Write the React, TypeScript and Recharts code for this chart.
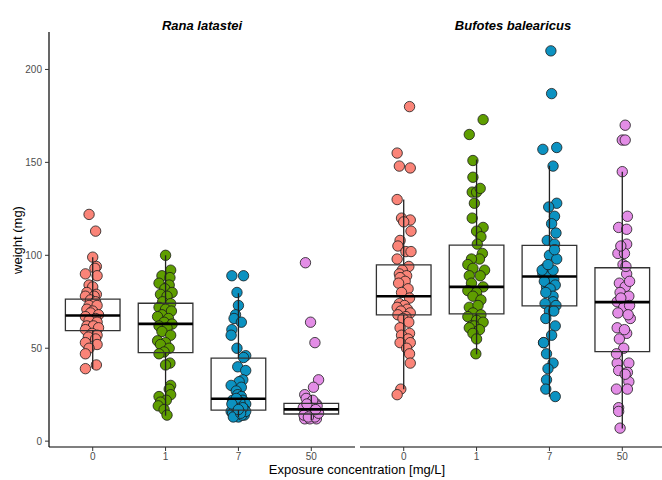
import { ComposedChart, ReferenceArea, ReferenceLine, Scatter, XAxis, YAxis } from "recharts";

const concentrations = ["0", "1", "7", "50"];
const groupColors = ["#FA8478", "#5F9E00", "#0C92C1", "#E38DE6"];
const weightTicks = [0, 50, 100, 150, 200];

// [jitter offset in category units, weight in mg]
const ranaC0: [number, number][] = [
  [-0.05, 122], [0.04, 113], [0, 99], [0.05, 94], [0.03, 93], [-0.1, 90], [0.06, 89], [-0.05, 84],
  [0, 83], [-0.08, 80], [0.05, 79], [0.02, 78], [-0.1, 78], [-0.03, 76], [0.04, 75], [-0.05, 73],
  [0.06, 73], [-0.08, 71], [0, 70], [-0.03, 69], [0.08, 68], [-0.1, 67], [0.04, 66], [-0.05, 65],
  [0.06, 64], [-0.08, 62], [0.01, 62], [0.08, 61], [-0.1, 60], [-0.01, 58], [0.06, 57], [-0.06, 56],
  [0.04, 55], [-0.1, 53], [0.06, 52], [-0.05, 50], [-0.1, 47], [0.05, 41], [-0.1, 39],
];
const ranaC1: [number, number][] = [
  [0, 100], [0.07, 92], [-0.05, 89], [0.06, 88], [-0.09, 85], [0.05, 84], [-0.01, 82], [0.09, 80],
  [-0.07, 79], [0.02, 78], [-0.04, 75], [0.07, 74], [-0.09, 72], [0, 71], [0.08, 70], [-0.05, 68],
  [-0.11, 67], [0.04, 66], [-0.02, 64], [0.09, 63], [-0.09, 62], [0.02, 61], [-0.05, 59], [0.07, 57],
  [-0.11, 54], [0, 53], [-0.07, 52], [0.05, 50], [-0.02, 48], [-0.09, 47], [0.06, 42], [0, 41],
  [0.07, 30], [0.05, 28], [-0.09, 24], [0.07, 25], [0.01, 22], [-0.07, 21], [-0.1, 19], [-0.02, 17], [0.02, 14],
];
const ranaC7: [number, number][] = [
  [-0.09, 89], [0.07, 89], [-0.02, 80], [0, 73], [-0.04, 68], [-0.06, 66], [0.04, 64], [-0.09, 60],
  [-0.1, 57], [-0.02, 50], [0.1, 46], [0.07, 45], [-0.01, 40], [0.1, 38], [0.06, 33], [0.01, 32],
  [-0.1, 30], [0.04, 29], [-0.03, 27], [-0.01, 25], [0.04, 24], [-0.08, 22], [0.06, 22], [0.01, 20],
  [0.1, 20], [0.03, 19], [-0.06, 18], [0.06, 18], [-0.04, 17], [-0.01, 16], [-0.1, 16], [-0.08, 15],
  [0.08, 14], [0, 13], [0.02, 21], [-0.05, 19], [0.08, 17], [-0.02, 15], [0.05, 14], [-0.07, 13],
  [0.1, 16], [-0.03, 23], [0.06, 18], [-0.09, 20], [0.03, 15], [0, 17],
];
const ranaC50: [number, number][] = [
  [-0.08, 96], [-0.01, 64], [0.05, 53], [0.1, 33], [0.03, 29], [-0.09, 25], [-0.07, 23], [0, 21],
  [0.07, 20], [-0.03, 19], [-0.11, 18], [0.02, 17], [0.09, 16], [-0.07, 15], [0, 14], [0.07, 12],
  [-0.09, 12], [-0.02, 12], [0.05, 13], [0.1, 15], [-0.05, 16], [0.04, 18], [-0.1, 14], [0.08, 19],
  [-0.04, 13], [0.02, 22], [0.06, 17], [-0.06, 20],
];

const bufoC0: [number, number][] = [
  [0.08, 180], [-0.09, 155], [-0.06, 148], [0.09, 147], [-0.09, 130], [-0.03, 120], [0.09, 119], [0, 118],
  [0.1, 113], [-0.05, 108], [-0.08, 105], [0.03, 102], [0.1, 102], [-0.09, 98], [0.07, 94], [-0.02, 92],
  [-0.06, 90], [0.04, 89], [-0.05, 88], [0.02, 86], [-0.07, 85], [0.06, 82], [-0.03, 80], [0.08, 77],
  [-0.06, 74], [0.01, 73], [-0.09, 72], [0.05, 71], [-0.04, 70], [0.09, 69], [-0.08, 68], [0.03, 67],
  [-0.01, 66], [0.07, 64], [-0.05, 61], [0.08, 58], [-0.03, 57], [0.06, 55], [-0.05, 53], [0.09, 53],
  [0.04, 50], [0.08, 47], [0.09, 42], [-0.04, 28], [-0.09, 25],
];
const bufoC1: [number, number][] = [
  [0.09, 173], [-0.1, 165], [-0.05, 151], [-0.05, 142], [-0.06, 134], [0, 134], [0.05, 136], [-0.03, 128],
  [-0.06, 120], [0.09, 115], [0, 113], [0.06, 110], [0.01, 106], [0.08, 101], [0.04, 98], [-0.07, 98],
  [-0.12, 95], [-0.05, 93], [0.11, 92], [-0.1, 89], [0.05, 89], [-0.07, 85], [0.09, 83], [-0.12, 81],
  [0, 80], [-0.05, 78], [0.06, 76], [-0.1, 72], [0.02, 73], [-0.05, 69], [0.06, 68], [-0.12, 67],
  [0, 65], [0.09, 64], [-0.07, 62], [-0.03, 62], [-0.1, 61], [0.04, 60], [-0.05, 58], [0, 55], [-0.01, 47],
];
const bufoC7: [number, number][] = [
  [0.02, 210], [0.03, 187], [-0.09, 157], [0.1, 158], [0.05, 148], [0.1, 128], [-0.01, 126], [0.07, 121],
  [0.03, 117], [0.09, 112], [-0.03, 108], [0.07, 106], [0, 100], [0.1, 98], [-0.06, 93], [-0.09, 90],
  [0, 89], [0.06, 87], [-0.04, 83], [0.08, 84], [-0.1, 92], [0.05, 92], [-0.07, 86], [0.01, 82],
  [0.05, 78], [-0.05, 80], [0.05, 75], [-0.06, 74], [0.09, 73], [0, 70], [-0.05, 66], [0.08, 62],
  [0.03, 57], [-0.08, 53], [-0.04, 47], [0.05, 42], [-0.02, 39], [-0.04, 33], [-0.05, 28], [0.08, 24],
  [-0.08, 53], [0.06, 70], [-0.02, 95], [0.07, 103],
];
const bufoC50: [number, number][] = [
  [0.04, 170], [0, 162], [0.04, 162], [0, 145], [0.07, 121], [-0.05, 115], [0.06, 114], [0.06, 106],
  [-0.06, 101], [0.03, 101], [0.01, 95], [0.06, 90], [-0.04, 85], [0.04, 83], [-0.03, 80], [0.09, 78],
  [-0.07, 75], [0.02, 72], [0.11, 66], [-0.07, 61], [0.06, 58], [-0.04, 55], [0.02, 50], [-0.07, 42],
  [0.09, 42], [-0.05, 38], [0.07, 37], [0.09, 32], [-0.08, 28], [0.07, 28], [-0.05, 18], [-0.05, 16],
  [-0.03, 7], [0.05, 94], [-0.02, 77], [0.1, 73], [-0.06, 69], [0.08, 68], [0.03, 60], [-0.08, 47],
  [0.04, 36], [-0.02, 105], [0.1, 86],
];

// [lower whisker, Q1, median, Q3, upper whisker]
const ranaBoxes = [
  [39, 59.5, 67.6, 76.4, 99],
  [13.7, 47.6, 63.1, 74.2, 100],
  [13, 16.7, 22.8, 44.7, 79.6],
  [11.3, 14.6, 17.1, 20.3, 24.8],
];
const bufoBoxes = [
  [27.9, 67.9, 78, 94.9, 130],
  [46.7, 68.5, 83, 105.5, 151.5],
  [23.9, 72.8, 88.6, 105.3, 148.2],
  [6.8, 48.2, 74.8, 93.3, 145],
];

const HALF_BOX = 0.375;
const FONT = '"Liberation Sans", Arial, sans-serif';

function Panel({ groups, boxes, showY, width, left }: { groups: [number, number][][]; boxes: number[][]; showY: boolean; width: number; left: number }) {
  return (
    <div style={{ position: "absolute", left, top: 0 }}>
      <ComposedChart width={width} height={480} margin={{ top: 32, right: showY ? 3 : 0, bottom: 0, left: showY ? 0 : 2 }}>
        <XAxis
          type="number"
          dataKey="x"
          domain={[-0.6, 3.6]}
          allowDataOverflow
          ticks={[0, 1, 2, 3]}
          interval={0}
          tickFormatter={(v) => concentrations[v]}
          height={33}
          tickSize={4}
          tickMargin={2}
          stroke="#000"
          axisLine={{ stroke: "#000", strokeWidth: 1.2 }}
          tickLine={{ stroke: "#333" }}
          tick={{ fill: "#4D4D4D", fontSize: 10, fontFamily: FONT }}
        />
        <YAxis
          type="number"
          dataKey="y"
          domain={[-3.15, 220.15]}
          allowDataOverflow
          ticks={weightTicks}
          hide={!showY}
          width={showY ? 49 : 0}
          tickSize={4}
          tickMargin={3}
          axisLine={{ stroke: "#000", strokeWidth: 1.2 }}
          tickLine={{ stroke: "#333" }}
          tick={{ fill: "#4D4D4D", fontSize: 10, fontFamily: FONT }}
        />
        {groups.map((pts, i) => (
          <Scatter
            key={`s${i}`}
            data={pts.map(([j, v]) => ({ x: i + j, y: v }))}
            isAnimationActive={false}
            shape={(p: any) => (
              <circle cx={p.cx} cy={p.cy} r={5.2} fill={groupColors[i]} stroke="#1a1a1a" strokeWidth={0.8} />
            )}
          />
        ))}
        {boxes.map((b, i) => (
          <ReferenceArea
            key={`b${i}`}
            x1={i - HALF_BOX}
            x2={i + HALF_BOX}
            y1={b[1]}
            y2={b[3]}
            fill="none"
            fillOpacity={0}
            stroke="#333"
            strokeWidth={1.3}
            zIndex={700}
          />
        ))}
        {boxes.map((b, i) => (
          <ReferenceLine key={`lw${i}`} segment={[{ x: i, y: b[0] }, { x: i, y: b[1] }]} stroke="#222" strokeWidth={1.3} zIndex={700} />
        ))}
        {boxes.map((b, i) => (
          <ReferenceLine key={`uw${i}`} segment={[{ x: i, y: b[3] }, { x: i, y: b[4] }]} stroke="#222" strokeWidth={1.3} zIndex={700} />
        ))}
        {boxes.map((b, i) => (
          <ReferenceLine
            key={`m${i}`}
            segment={[{ x: i - HALF_BOX, y: b[2] }, { x: i + HALF_BOX, y: b[2] }]}
            stroke="#000"
            strokeWidth={2.6}
            zIndex={710}
          />
        ))}
      </ComposedChart>
    </div>
  );
}

export default function App() {
  const text = { position: "absolute" as const, whiteSpace: "nowrap" as const, fontFamily: FONT, color: "#000" };
  return (
    <div style={{ position: "absolute", left: 0, top: 0, width: 662, height: 480, overflow: "hidden", background: "#fff", fontFamily: FONT }}>
      <Panel groups={[ranaC0, ranaC1, ranaC7, ranaC50]} boxes={ranaBoxes} showY width={358} left={0} />
      <Panel groups={[bufoC0, bufoC1, bufoC7, bufoC50]} boxes={bufoBoxes} showY={false} width={308} left={358} />
      <div style={{ ...text, left: 202, top: 18, transform: "translateX(-50%)", fontSize: 13, fontWeight: "bold", fontStyle: "italic" }}>
        Rana latastei
      </div>
      <div style={{ ...text, left: 513, top: 18, transform: "translateX(-50%)", fontSize: 13, fontWeight: "bold", fontStyle: "italic" }}>
        Bufotes balearicus
      </div>
      <div style={{ ...text, left: 17, top: 240, transform: "translate(-50%, -50%) rotate(-90deg)", fontSize: 13 }}>
        weight (mg)
      </div>
      <div style={{ ...text, left: 357, top: 469, transform: "translate(-50%, -50%)", fontSize: 13 }}>
        Exposure concentration [mg/L]
      </div>
    </div>
  );
}
